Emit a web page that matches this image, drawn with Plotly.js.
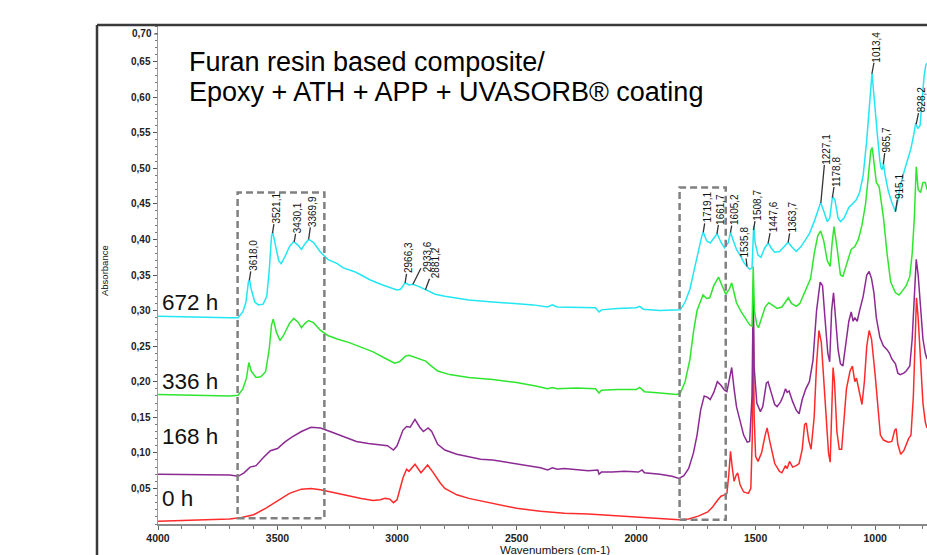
<!DOCTYPE html>
<html>
<head>
<meta charset="utf-8">
<script src="https://cdn.plot.ly/plotly-3.0.1.min.js"></script>
<style>
html,body{margin:0;padding:0;background:#fff;overflow:hidden;}
#chart{width:927px;height:555px;}
</style>
</head>
<body>
<div id="chart"></div>
<script>
// ---------- DATA ----------
const wn0h = [4000,3900,3800,3700,3650,3600,3550,3500,3450,3400,3360,3320,3280,3200,3150,3100,3070,3050,3030,3015,3000,2975,2960,2950,2925,2900,2872,2850,2820,2800,2750,2700,2600,2500,2400,2300,2200,2100,2000,1900,1820,1780,1740,1700,1680,1660,1645,1630,1620,1612,1605,1598,1590,1582,1575,1565,1550,1530,1520,1514,1510,1506,1500,1490,1475,1460,1452,1440,1420,1400,1390,1375,1368,1358,1345,1330,1318,1305,1295,1288,1278,1268,1255,1245,1235,1225,1210,1195,1188,1182,1176,1170,1160,1150,1140,1120,1105,1095,1085,1078,1065,1055,1045,1035,1025,1015,1000,990,978,965,945,930,918,912,905,893,880,860,850,840,832,827,820,810,800,790,783];
const abs0h = [0.004,0.005,0.006,0.007,0.009,0.013,0.022,0.033,0.043,0.049,0.050,0.048,0.045,0.040,0.036,0.033,0.034,0.036,0.035,0.030,0.034,0.065,0.077,0.074,0.084,0.072,0.083,0.073,0.058,0.050,0.041,0.036,0.029,0.022,0.018,0.015,0.014,0.012,0.010,0.008,0.006,0.007,0.011,0.017,0.024,0.033,0.039,0.041,0.043,0.070,0.102,0.080,0.060,0.068,0.072,0.055,0.045,0.043,0.050,0.120,0.300,0.150,0.095,0.088,0.100,0.125,0.135,0.115,0.085,0.074,0.072,0.082,0.078,0.088,0.080,0.082,0.085,0.105,0.140,0.142,0.118,0.105,0.150,0.225,0.272,0.255,0.180,0.100,0.087,0.140,0.220,0.200,0.130,0.105,0.105,0.190,0.215,0.222,0.200,0.205,0.185,0.168,0.200,0.250,0.272,0.260,0.210,0.165,0.125,0.118,0.115,0.116,0.132,0.134,0.112,0.098,0.103,0.120,0.125,0.180,0.280,0.318,0.290,0.220,0.170,0.143,0.135];

const wn168h = [4000,3900,3800,3700,3665,3640,3615,3590,3560,3530,3500,3470,3440,3400,3360,3320,3280,3230,3170,3120,3080,3040,3015,3000,2975,2960,2945,2925,2905,2890,2870,2855,2830,2800,2750,2700,2650,2600,2500,2400,2370,2350,2330,2300,2200,2160,2155,2145,2100,2050,1990,1975,1965,1900,1850,1820,1800,1780,1760,1745,1730,1715,1700,1690,1675,1660,1645,1630,1620,1610,1600,1590,1580,1565,1550,1535,1525,1515,1510,1506,1495,1480,1470,1455,1448,1435,1420,1410,1395,1385,1375,1368,1360,1345,1330,1318,1305,1290,1275,1260,1245,1230,1220,1210,1198,1190,1182,1174,1165,1155,1145,1135,1120,1110,1100,1092,1085,1075,1065,1050,1035,1025,1015,1005,995,980,965,950,940,930,915,905,895,880,870,855,845,835,828,820,810,800,790,783];
const abs168h = [0.070,0.070,0.069,0.069,0.067,0.072,0.080,0.082,0.093,0.103,0.106,0.115,0.122,0.130,0.136,0.135,0.130,0.124,0.116,0.113,0.112,0.110,0.104,0.110,0.132,0.137,0.136,0.147,0.136,0.130,0.135,0.130,0.112,0.104,0.098,0.094,0.091,0.090,0.085,0.079,0.076,0.079,0.077,0.078,0.075,0.076,0.070,0.073,0.073,0.074,0.073,0.076,0.072,0.070,0.067,0.064,0.068,0.078,0.100,0.125,0.160,0.180,0.178,0.175,0.185,0.200,0.195,0.188,0.186,0.205,0.220,0.190,0.165,0.145,0.125,0.115,0.116,0.180,0.330,0.220,0.170,0.158,0.165,0.198,0.200,0.185,0.168,0.165,0.172,0.180,0.190,0.185,0.187,0.172,0.160,0.155,0.175,0.190,0.200,0.230,0.300,0.340,0.335,0.290,0.240,0.228,0.300,0.325,0.290,0.245,0.225,0.222,0.260,0.285,0.298,0.285,0.290,0.285,0.300,0.320,0.350,0.355,0.345,0.325,0.290,0.262,0.250,0.245,0.240,0.232,0.225,0.212,0.210,0.212,0.215,0.222,0.260,0.330,0.372,0.350,0.300,0.260,0.240,0.232];

const wn336h = [4000,3900,3800,3700,3665,3645,3630,3620,3610,3590,3570,3550,3535,3525,3518,3505,3490,3475,3450,3432,3415,3400,3385,3370,3350,3320,3290,3250,3200,3150,3100,3050,3010,2990,2965,2950,2930,2900,2880,2860,2830,2780,2700,2600,2500,2420,2370,2350,2330,2250,2170,2155,2145,2080,2000,1985,1965,1900,1830,1815,1795,1775,1760,1745,1733,1720,1705,1692,1675,1655,1640,1625,1610,1600,1590,1580,1560,1540,1525,1515,1510,1505,1495,1488,1475,1460,1445,1430,1410,1390,1370,1363,1350,1330,1315,1300,1287,1270,1255,1240,1228,1215,1200,1188,1180,1172,1160,1145,1135,1120,1100,1085,1070,1055,1040,1028,1018,1012,1005,995,983,975,965,950,935,915,900,885,870,855,845,836,828,820,810,800,790,783];
const abs336h = [0.182,0.181,0.181,0.180,0.181,0.190,0.205,0.227,0.215,0.206,0.207,0.214,0.245,0.280,0.288,0.270,0.258,0.265,0.282,0.289,0.284,0.276,0.282,0.286,0.283,0.272,0.265,0.260,0.255,0.249,0.242,0.233,0.226,0.228,0.236,0.237,0.235,0.232,0.229,0.223,0.215,0.210,0.206,0.203,0.199,0.194,0.190,0.192,0.190,0.191,0.190,0.184,0.188,0.189,0.189,0.192,0.186,0.184,0.182,0.184,0.200,0.231,0.270,0.300,0.311,0.322,0.317,0.318,0.335,0.347,0.335,0.323,0.330,0.339,0.325,0.311,0.298,0.288,0.280,0.278,0.362,0.300,0.280,0.276,0.290,0.305,0.311,0.308,0.303,0.305,0.316,0.318,0.310,0.306,0.310,0.322,0.330,0.345,0.380,0.405,0.412,0.398,0.370,0.362,0.395,0.418,0.390,0.350,0.348,0.365,0.386,0.390,0.400,0.420,0.450,0.490,0.525,0.529,0.510,0.480,0.474,0.455,0.430,0.380,0.340,0.325,0.322,0.328,0.335,0.348,0.380,0.430,0.502,0.470,0.466,0.480,0.480,0.470];

const wn672h = [4000,3900,3800,3700,3665,3645,3632,3622,3617,3610,3595,3580,3560,3545,3535,3525,3520,3510,3495,3485,3470,3450,3432,3415,3400,3385,3370,3350,3320,3290,3250,3225,3180,3150,3112,3060,3000,2985,2966,2950,2933,2910,2890,2870,2840,2800,2700,2600,2500,2430,2370,2350,2330,2250,2170,2155,2145,2080,2000,1985,1970,1900,1830,1815,1795,1775,1755,1740,1725,1719,1705,1690,1675,1661,1645,1630,1615,1605,1595,1580,1565,1550,1536,1525,1515,1508,1502,1490,1478,1462,1447,1435,1420,1400,1380,1364,1350,1330,1310,1290,1275,1255,1240,1228,1215,1200,1190,1178,1168,1155,1145,1130,1110,1095,1080,1065,1050,1035,1025,1018,1013,1007,1000,990,980,975,970,965,958,945,930,915,905,895,880,865,850,838,830,822,812,805,795,788,783];
const abs672h = [0.292,0.291,0.291,0.290,0.290,0.298,0.312,0.340,0.343,0.330,0.312,0.308,0.309,0.320,0.355,0.405,0.410,0.392,0.370,0.366,0.375,0.390,0.397,0.392,0.386,0.394,0.400,0.396,0.382,0.372,0.366,0.360,0.355,0.350,0.343,0.336,0.329,0.330,0.339,0.336,0.337,0.334,0.331,0.327,0.323,0.320,0.315,0.312,0.310,0.308,0.305,0.308,0.305,0.305,0.304,0.298,0.301,0.303,0.304,0.306,0.302,0.300,0.300,0.301,0.312,0.330,0.360,0.385,0.405,0.410,0.398,0.395,0.402,0.408,0.396,0.388,0.395,0.410,0.400,0.386,0.378,0.368,0.362,0.358,0.360,0.419,0.395,0.378,0.375,0.388,0.395,0.388,0.382,0.383,0.390,0.396,0.390,0.383,0.390,0.400,0.408,0.425,0.440,0.452,0.440,0.425,0.430,0.461,0.455,0.430,0.425,0.430,0.445,0.450,0.455,0.466,0.490,0.540,0.580,0.620,0.634,0.610,0.580,0.545,0.510,0.500,0.498,0.507,0.490,0.468,0.452,0.439,0.455,0.475,0.494,0.510,0.528,0.548,0.564,0.556,0.560,0.590,0.630,0.645,0.648];

const seriesNames = ['0 h','168 h','336 h','672 h'];

const peakWn = [3618.0,3521.1,3430.1,3369.9,2966.3,2933.6,2881.2,1719.1,1661.7,1605.2,1535.8,1508.7,1447.6,1363.7,1227.1,1178.8,1013.4,965.7,915.1,828.2];
const peakText = ['3618,0','3521,1','3430,1','3369,9','2966,3','2933,6','2881,2','1719,1','1661,7','1605,2','1535,8','1508,7','1447,6','1363,7','1227,1','1178,8','1013,4','965,7','915,1','828,2'];

const yTickVals = [0.05,0.10,0.15,0.20,0.25,0.30,0.35,0.40,0.45,0.50,0.55,0.60,0.65];
const yTickText = ['0,05','0,10','0,15','0,20','0,25','0,30','0,35','0,40','0,45','0,50','0,55','0,60','0,65'];
const yTopLabel = '0,70';
const xTickVals = [4000,3500,3000,2500,2000,1500,1000];
const xTickText = ['4000','3500','3000','2500','2000','1500','1000'];

// ---------- STYLE ----------
const colors = {'0 h':'#ff2b2b','168 h':'#8c2a94','336 h':'#2ee62e','672 h':'#22e6f2'};
const FONT = 'Arial, "Liberation Sans", sans-serif';
const PL = 158, PT = 26, PW = 769, PH = 498;
const px = v => (v - PL) / PW;          // pixel x -> paper
const py = v => (PT + PH - v) / PH;     // pixel y -> paper

function mk(x, y, name){
  return {x:x, y:y, name:name, type:'scatter', mode:'lines',
    line:{color:colors[name], width:1.5}, hoverinfo:'skip', showlegend:false};
}
const traces = [mk(wn0h,abs0h,'0 h'), mk(wn168h,abs168h,'168 h'), mk(wn336h,abs336h,'336 h'), mk(wn672h,abs672h,'672 h')];

function interp(xs, ys, v){
  for(let i=0;i<xs.length-1;i++){
    const a=xs[i], b=xs[i+1];
    if((v<=a && v>=b)||(v>=a && v<=b)){
      const t=(v-a)/(b-a); return ys[i]+t*(ys[i+1]-ys[i]);
    }
  }
  return ys[ys.length-1];
}

// per-label pixel offsets of label centre
const lblOff = [[4,-25],[4,-25],[4,-24],[4,-28],[4,-25],[14,-28],[10,-27],[4,-25],[4,-25],[4,-23],[-3,-24],[4,-25],[5,-26],[4,-25],[5,-54],[4,-26],[5,-27],[3,-24],[4,-25],[5,-24]];

const annotations = [];
peakWn.forEach((w,i)=>{
  annotations.push({x:w, y:interp(wn672h,abs672h,w), xref:'x', yref:'y',
    text:peakText[i], textangle:-90, showarrow:true, arrowhead:0, arrowwidth:1.3,
    arrowcolor:'#333', ax:lblOff[i][0], ay:lblOff[i][1], standoff:0, borderpad:0,
    font:{family:FONT, size:10, color:'#111'}});
});

// series labels
const lblY = {'672 h':0.311,'336 h':0.200,'168 h':0.123,'0 h':0.036};
seriesNames.forEach(n=>{
  annotations.push({x:px(160), xref:'paper', y:lblY[n], yref:'y', xanchor:'left', yanchor:'middle',
    text:n, showarrow:false, font:{family:FONT, size:22.5, color:'#111'}});
});

// title lines
annotations.push({x:px(187), xref:'paper', y:py(62), yref:'paper', xanchor:'left', yanchor:'middle',
  text:'Furan resin based composite/', showarrow:false, font:{family:FONT, size:27, color:'#000'}});
annotations.push({x:px(187), xref:'paper', y:py(92), yref:'paper', xanchor:'left', yanchor:'middle',
  text:'Epoxy + ATH + APP + UVASORB® coating', showarrow:false, font:{family:FONT, size:27, color:'#000'}});

// top y tick label (drawn slightly below the frame, as in the original)
annotations.push({x:px(153), xref:'paper', y:py(34), yref:'paper', xanchor:'right', yanchor:'middle',
  text:yTopLabel, showarrow:false, borderpad:0, font:{family:FONT, size:10, color:'#222', weight:'bold'}});

// axis titles
annotations.push({x:px(104), xref:'paper', y:py(271), yref:'paper', textangle:-90, xanchor:'center',
  text:'Absorbance', showarrow:false, font:{family:FONT, size:9.5, color:'#111'}});
annotations.push({x:px(555), xref:'paper', y:py(543), yref:'paper', yanchor:'top', borderpad:0,
  text:'Wavenumbers (cm-1)', showarrow:false, font:{family:FONT, size:11.5, color:'#111'}});

const shapes = [
  {type:'rect', xref:'x', yref:'y', x0:3667, x1:3304, y0:0.008, y1:0.466,
   line:{color:'#808080', width:2.5, dash:'7px,4px'}},
  {type:'rect', xref:'x', yref:'y', x0:1818, x1:1625, y0:0.006, y1:0.473,
   line:{color:'#808080', width:2.5, dash:'7px,4px'}},
  // outer frame (left and top)
  {type:'line', xref:'paper', yref:'paper', x0:px(97), x1:px(97), y0:py(25), y1:py(560),
   line:{color:'#3a3a3a', width:2.5}},
  {type:'line', xref:'paper', yref:'paper', x0:px(97), x1:1.01, y0:py(25), y1:py(25),
   line:{color:'#3a3a3a', width:2.5}},
  // tick for top label
  {type:'line', xref:'paper', yref:'paper', x0:px(154), x1:px(158), y0:py(34), y1:py(34),
   line:{color:'#555', width:1}}
];

const layout = {
  width:927, height:555,
  margin:{l:PL, r:0, t:PT, b:555-PT-PH, pad:0},
  paper_bgcolor:'#fff', plot_bgcolor:'#fff',
  showlegend:false,
  xaxis:{range:[4000,783], autorange:false, showgrid:false, zeroline:false,
    showline:true, linecolor:'#8a8a8a', linewidth:1.5,
    tickmode:'array', tickvals:xTickVals, ticktext:xTickText,
    ticks:'outside', ticklen:4, tickcolor:'#666', tickwidth:1,
    minor:{dtick:100, ticks:'outside', ticklen:3, tickcolor:'#777', showgrid:false},
    tickfont:{family:FONT, size:10.5, color:'#222', weight:'bold'}},
  yaxis:{range:[0,0.7], autorange:false, showgrid:false, zeroline:false,
    showline:true, linecolor:'#9a9a9a', linewidth:1.5,
    tickmode:'array', tickvals:yTickVals, ticktext:yTickText,
    ticks:'outside', ticklen:4, tickcolor:'#555', tickwidth:1,
    minor:{dtick:0.01, ticks:'outside', ticklen:2, tickcolor:'#777', showgrid:false},
    tickfont:{family:FONT, size:10, color:'#222', weight:'bold'}},
  annotations:annotations,
  shapes:shapes
};

Plotly.newPlot('chart', traces, layout, {staticPlot:true, displayModeBar:false});
</script>
</body>
</html>
